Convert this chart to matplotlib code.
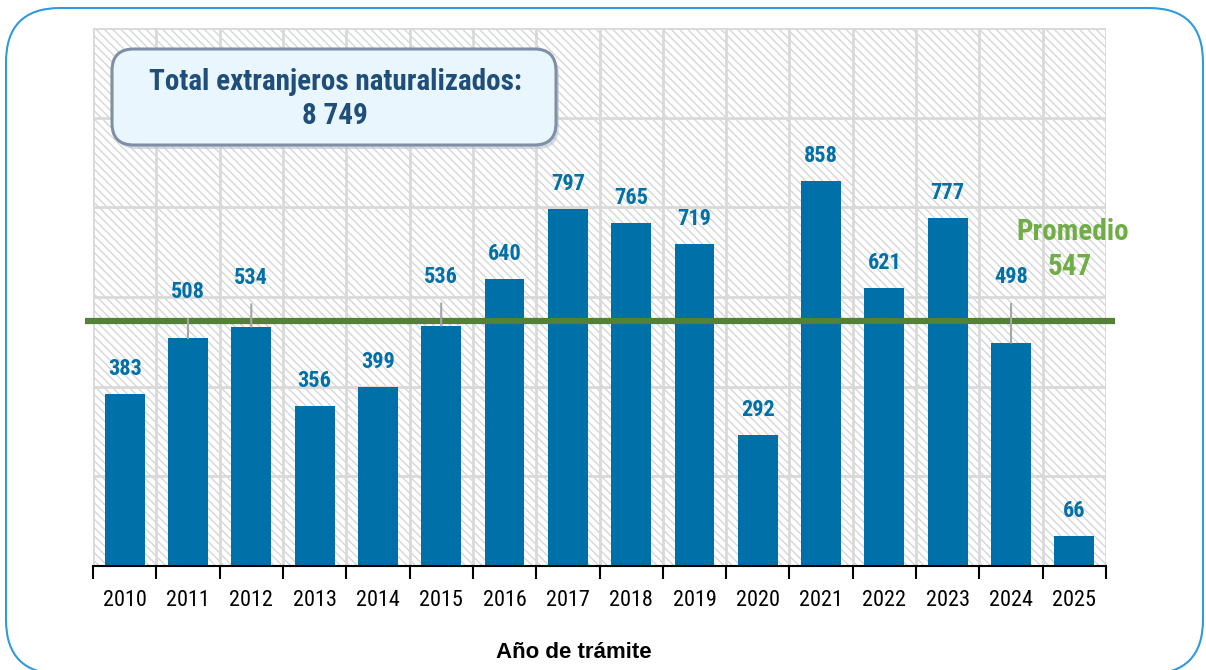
import matplotlib
matplotlib.use("Agg")
import matplotlib.pyplot as plt
from matplotlib.patches import FancyBboxPatch, Rectangle
import numpy as np

years = ["2010", "2011", "2012", "2013", "2014", "2015", "2016", "2017",
         "2018", "2019", "2020", "2021", "2022", "2023", "2024", "2025"]
naturalized = [383, 508, 534, 356, 399, 536, 640, 797,
               765, 719, 292, 858, 621, 777, 498, 66]
average = 547
total_text = "8 749"

# label lift above each bar (points); larger lifts get a leader line
label_lift = [18, 33, 35, 18, 18, 35, 18, 18, 18, 18, 18, 18, 18, 18, 47, 18]

BAR = "#0070A8"
GREEN_LINE = "#538135"
GREEN_TEXT = "#70AD47"
GRID = "#D9D9D9"
NARROW = ["Roboto Condensed", "Liberation Sans", "DejaVu Sans"]
ARIAL = ["Liberation Sans", "DejaVu Sans"]

plt.rcParams["hatch.linewidth"] = 1.0
plt.rcParams["hatch.color"] = "#D6D6D6"

fig = plt.figure(figsize=(12.06, 6.70), dpi=100)
W, H = 1206, 670

# rounded frame around the whole figure
frame = FancyBboxPatch((6 / W, -4 / H), 1197 / W, 666 / H,
                       boxstyle="round,pad=0,rounding_size=0.045",
                       transform=fig.transFigure, facecolor="none",
                       edgecolor="#2E9BDB", linewidth=1.5, zorder=-1,
                       mutation_aspect=W / H)
fig.patches.append(frame)

ax = fig.add_axes([93 / W, 1 - 566 / H, 1013 / W, 538 / H])
ax.set_facecolor("none")
x = np.arange(len(years))
ax.set_xlim(-0.5, len(years) - 0.5)
ax.set_ylim(0, 1200)

# hatched plot background
ax.add_patch(Rectangle((0, 0), 1, 1, transform=ax.transAxes, facecolor="white",
                       edgecolor="#D6D6D6", hatch="\\\\\\\\", linewidth=0, zorder=0))

# grid
for yv in range(200, 1201, 200):
    ax.axhline(yv, color=GRID, lw=2, zorder=1)
for xv in np.arange(-0.5, len(years), 1.0):
    ax.axvline(xv, color=GRID, lw=2, zorder=1)

ax.bar(x, naturalized, width=0.63, color=BAR, zorder=3)

for xi, v, lift in zip(x, naturalized, label_lift):
    leader = dict(arrowstyle="-", color="#A6A6A6", lw=1.5, shrinkA=9, shrinkB=0) if lift > 20 else None
    ax.annotate(str(v), xy=(xi, v), xytext=(0, lift), textcoords="offset points",
                ha="center", va="center", color=BAR, fontsize=16,
                fontweight="bold", family=NARROW, zorder=5, arrowprops=leader)

# average line and its label
ax.plot([-0.62, len(years) - 0.35], [average, average], color=GREEN_LINE,
        lw=4.5, zorder=4, clip_on=False, solid_capstyle="butt")
ax.annotate("Promedio", xy=(14.95, average), xytext=(1, 64),
            textcoords="offset points", ha="center", va="center",
            color=GREEN_TEXT, fontsize=21, fontweight="bold", family=NARROW, zorder=5)
ax.annotate(f"{average}", xy=(14.95, average), xytext=(-1, 39),
            textcoords="offset points", ha="center", va="center",
            color=GREEN_TEXT, fontsize=21, fontweight="bold", family=NARROW, zorder=5)

for s in ["top", "right", "left"]:
    ax.spines[s].set_visible(False)
ax.spines["bottom"].set_color("black")
ax.spines["bottom"].set_linewidth(1.5)
ax.spines["bottom"].set_zorder(6)
ax.set_yticks([])
ax.set_xticks(np.arange(-0.5, len(years), 1.0))
ax.set_xticklabels([])
ax.set_xticks(x, minor=True)
ax.set_xticklabels(years, minor=True, fontsize=16, family=NARROW)
ax.tick_params(axis="x", which="major", length=9, width=1.5, direction="out", color="black")
ax.tick_params(axis="x", which="minor", length=0, pad=17)
ax.set_xlabel("Año de trámite", fontsize=16, fontweight="bold", family=ARIAL)
ax.xaxis.set_label_coords(0.475, -0.142)

# summary box
box = FancyBboxPatch((112 / W, 1 - 145 / H), 444 / W, 96 / H,
                     boxstyle="round,pad=0,rounding_size=0.018",
                     transform=fig.transFigure, facecolor="#EAF6FD",
                     edgecolor="#7F8FA6", linewidth=2.2, zorder=10,
                     mutation_aspect=W / H)
shadow = FancyBboxPatch((115 / W, 1 - 149 / H), 444 / W, 96 / H,
                        boxstyle="round,pad=0,rounding_size=0.018",
                        transform=fig.transFigure, facecolor="#B8C4D2",
                        edgecolor="none", alpha=0.6, zorder=9,
                        mutation_aspect=W / H)
fig.patches.append(shadow)
fig.patches.append(box)
fig.text(335 / W, 1 - 99 / H, f"Total extranjeros naturalizados:\n{total_text}",
         ha="center", va="center", fontsize=21, fontweight="bold",
         color="#1F4E79", family=NARROW, linespacing=1.25, zorder=11)

fig.savefig("out.png", dpi=100)
